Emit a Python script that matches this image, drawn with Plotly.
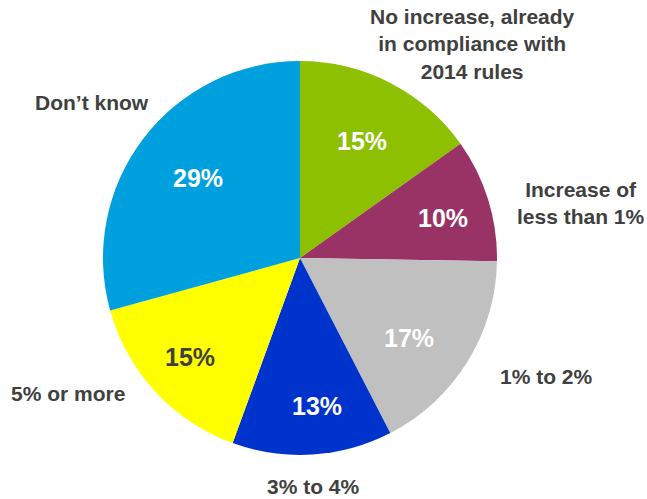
import plotly.graph_objects as go

W, H = 647, 499

categories = ["No increase, already<br>in compliance with<br>2014 rules",
              "Increase of<br>less than 1%",
              "1% to 2%",
              "3% to 4%",
              "5% or more",
              "Don\u2019t know"]
values = [15, 10, 17, 13, 15, 29]
colors = ["#8CC000", "#993366", "#C0C0C0", "#0033CC", "#FFFF00", "#00A0DF"]
text_colors = ["#FFFFFF", "#FFFFFF", "#FFFFFF", "#FFFFFF", "#404040", "#FFFFFF"]

# label positions in page pixels
label_pos = [(472, 44), (581, 203), (546, 376), (313, 486), (68, 393), (92, 103)]
pct_pos = [(362, 141), (443, 218), (409, 338), (317, 406), (190, 357), (198, 178)]

cx, cy, r = 300, 258, 197
FONT = "Liberation Sans, Arial, sans-serif"

fig = go.Figure(go.Pie(
    labels=categories,
    values=values,
    marker=dict(colors=colors, line=dict(width=0)),
    sort=False,
    direction="clockwise",
    rotation=0,
    textinfo="none",
    domain=dict(x=[(cx - r) / W, (cx + r) / W], y=[1 - (cy + r) / H, 1 - (cy - r) / H]),
    showlegend=False,
    hoverinfo="label+percent",
))

def px(x, y):
    return x / W, 1 - y / H

for lab, (x, y) in zip(categories, label_pos):
    ax, ay = px(x, y)
    fig.add_annotation(
        x=ax, y=ay, xref="paper", yref="paper",
        text="<b>" + lab + "</b>", showarrow=False,
        xanchor="center", yanchor="middle", align="center",
        borderpad=0,
        font=dict(family=FONT, size=21, color="#404040"),
    )

for v, tc, (x, y) in zip(values, text_colors, pct_pos):
    ax, ay = px(x, y)
    fig.add_annotation(
        x=ax, y=ay, xref="paper", yref="paper",
        text="<b>%d%%</b>" % v, showarrow=False,
        xanchor="center", yanchor="middle", borderpad=0,
        font=dict(family=FONT, size=25, color=tc),
    )

fig.update_layout(
    width=W, height=H,
    margin=dict(l=0, r=0, t=0, b=0),
    paper_bgcolor="white",
    plot_bgcolor="white",
    font=dict(family=FONT),
)

fig.write_html("out.html",
               config={"displayModeBar": False},
               post_script="document.body.style.margin='0';document.body.style.overflow='hidden';")
